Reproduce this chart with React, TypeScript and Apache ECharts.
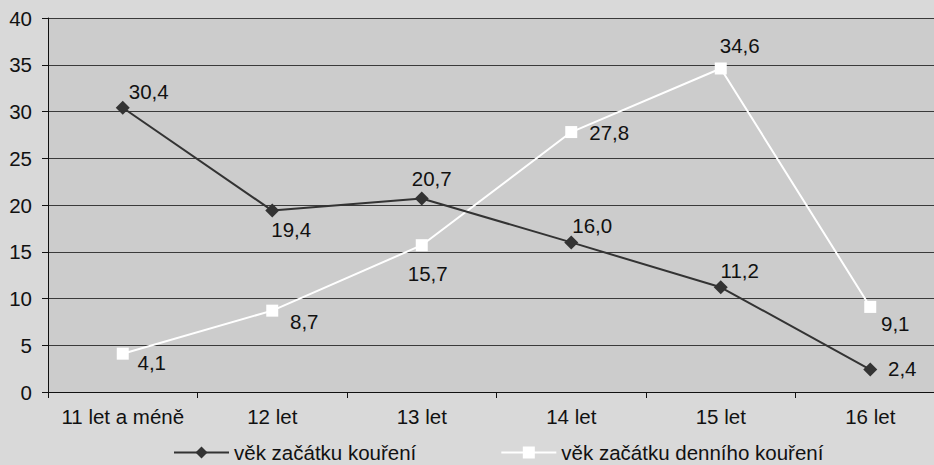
import React, { useEffect, useRef } from "react";
import * as echarts from "echarts";

const categories = ["11 let a méně", "12 let", "13 let", "14 let", "15 let", "16 let"];
const seriesNames = ["věk začátku kouření", "věk začátku denního kouření"];
const smokingStart = [30.4, 19.4, 20.7, 16.0, 11.2, 2.4];
const dailySmokingStart = [4.1, 8.7, 15.7, 27.8, 34.6, 9.1];
const yTicks = { min: 0, max: 40, interval: 5 };

// label offsets (layout only)
const offsets1 = [[26, -16], [19, 19], [10, -20], [21, -17], [19, -17], [32, -1]];
const offsets2 = [[29, 9], [32, 11], [6, 28], [38, 0], [19, -23], [25, 17]];

const FONT = "'Liberation Sans', Arial, Helvetica, sans-serif";
const FS = 20.5;
const fmt = (v: number) => v.toFixed(1).replace(".", ",");

export default function App() {
  const ref = useRef<HTMLDivElement>(null);
  useEffect(() => {
    if (!ref.current) return;
    const chart = echarts.init(ref.current, null, { renderer: "svg" });
    const mk = (vals: number[], offs: number[][]) =>
      vals.map((v, i) => ({
        value: v,
        label: { offset: offs[i] },
      }));
    chart.setOption({
      animation: false,
      backgroundColor: "#d9d9d9",
      textStyle: { fontFamily: FONT },
      grid: {
        left: 48,
        top: 18,
        width: 897,
        height: 374,
        show: true,
        backgroundColor: "#cccccc",
        borderWidth: 0,
        outerBoundsMode: "none",
      },
      legend: {
        left: 173,
        top: 442,
        padding: 0,
        itemWidth: 55,
        itemHeight: 15,
        itemGap: 84,
        textStyle: { fontSize: FS, color: "#111", fontFamily: FONT, padding: [0, 0, 0, 0] },
        data: seriesNames,
      },
      xAxis: {
        type: "category",
        data: categories,
        boundaryGap: true,
        axisLine: { show: true, lineStyle: { color: "#111", width: 1 } },
        axisTick: { show: true, length: 6, interval: 0, lineStyle: { color: "#111" } },
        axisLabel: { fontSize: FS, color: "#111", margin: 14, interval: 0, fontFamily: FONT },
        splitLine: { show: false },
      },
      yAxis: {
        type: "value",
        min: yTicks.min,
        max: yTicks.max,
        interval: yTicks.interval,
        axisLine: { show: true, lineStyle: { color: "#111", width: 1 } },
        axisTick: { show: true, length: 6, lineStyle: { color: "#111" } },
        axisLabel: { fontSize: FS, color: "#111", margin: 16, fontFamily: FONT },
        splitLine: { show: true, lineStyle: { color: "#3a3a3a", width: 1 } },
      },
      series: [
        {
          name: seriesNames[0],
          type: "line",
          data: mk(smokingStart, offsets1),
          symbol: "diamond",
          symbolSize: 14,
          color: "#333333",
          lineStyle: { color: "#333333", width: 2 },
          itemStyle: { color: "#333333" },
          label: {
            show: true,
            position: "inside",
            fontSize: FS,
            color: "#111",
            fontFamily: FONT,
            formatter: (p: any) => fmt(p.value),
          },
          z: 3,
        },
        {
          name: seriesNames[1],
          type: "line",
          data: mk(dailySmokingStart, offsets2),
          symbol: "rect",
          symbolSize: 12,
          color: "#ffffff",
          lineStyle: { color: "#ffffff", width: 2 },
          itemStyle: { color: "#ffffff" },
          label: {
            show: true,
            position: "inside",
            fontSize: FS,
            color: "#111",
            fontFamily: FONT,
            formatter: (p: any) => fmt(p.value),
          },
          z: 2,
        },
      ],
    });
    return () => chart.dispose();
  }, []);
  return (
    <div
      style={{
        position: "fixed",
        left: 0,
        top: 0,
        width: 934,
        height: 465,
        overflow: "hidden",
      }}
    >
      <div ref={ref} style={{ width: 960, height: 465 }} />
    </div>
  );
}
